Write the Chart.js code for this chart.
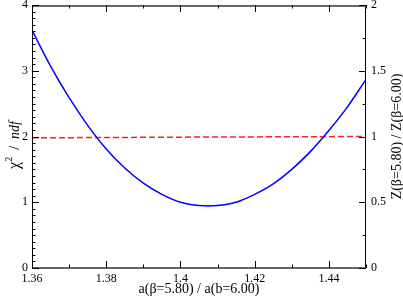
<!DOCTYPE html>
<html lang="en">
<head>
  <meta charset="UTF-8">
  <title>chi2 vs a ratio</title>
  <script src="https://cdn.jsdelivr.net/npm/chart.js"></script>
  <style>
    html, body { margin: 0; padding: 0; background: #fff; }
    #wrap { width: 403px; height: 300px; }
  </style>
</head>
<body>
  <div id="wrap"><canvas id="chart_div"></canvas></div>
  <script>
    // values
    const aRatio = [1.360, 1.365, 1.370, 1.375, 1.380, 1.385, 1.390, 1.395, 1.400, 1.405,
                    1.410, 1.415, 1.420, 1.425, 1.430, 1.435, 1.440, 1.445, 1.450];
    const chi2 = [3.62, 3.07, 2.59, 2.17, 1.81, 1.52, 1.29, 1.12, 1.00, 0.95,
                  0.95, 1.00, 1.12, 1.28, 1.50, 1.77, 2.09, 2.45, 2.87];
    const zRatioX = [1.36, 1.40, 1.45];
    const zRatio = [0.990, 0.995, 1.000];

    const xTicks = [1.36, 1.38, 1.40, 1.42, 1.44];
    const xTickLabels = ['1.36', '1.38', '1.4', '1.42', '1.44'];
    const yTicks = [0, 1, 2, 3, 4];
    const yTickLabels = ['0', '1', '2', '3', '4'];
    const y2Ticks = [0, 0.5, 1, 1.5, 2];
    const y2TickLabels = ['0', '0.5', '1', '1.5', '2'];

    const serif = "'Liberation Serif', 'DejaVu Serif', serif";

    function fixTicks(values) {
      return function (scale) {
        scale.ticks = values.map(v => ({ value: v }));
      };
    }
    function labelFrom(values, labels) {
      return function (value) {
        const i = values.findIndex(v => Math.abs(v - value) < 1e-9);
        return i >= 0 ? labels[i] : '';
      };
    }
    function sideFit(width) {
      return function (scale) {
        scale.width = width;
        scale.paddingTop = 0;
        scale.paddingBottom = 0;
      };
    }

    // frame, inward ticks and axis titles
    const frame = {
      id: 'frame',
      afterDraw(chart) {
        const { ctx, chartArea: { left, right, top, bottom }, scales: { x, y, y2 } } = chart;
        ctx.save();
        ctx.strokeStyle = '#000';
        ctx.lineWidth = 1;
        ctx.beginPath();
        ctx.moveTo(left + 0.5, top); ctx.lineTo(left + 0.5, bottom);
        ctx.moveTo(right - 0.5, top); ctx.lineTo(right - 0.5, bottom);
        ctx.stroke();
        ctx.strokeStyle = '#666';
        ctx.lineWidth = 2;
        ctx.beginPath();
        ctx.moveTo(left, top + 1); ctx.lineTo(right, top + 1);
        ctx.moveTo(left, bottom); ctx.lineTo(right, bottom);
        ctx.stroke();

        ctx.strokeStyle = '#000';
        ctx.lineWidth = 1;
        ctx.beginPath();
        // x ticks, top and bottom
        for (let i = 0; i <= 9; i++) {
          const v = 1.36 + i * 0.01;
          const px = Math.round(x.getPixelForValue(v)) + 0.5;
          const len = i % 2 === 0 ? 7 : 3.5;
          ctx.moveTo(px, bottom); ctx.lineTo(px, bottom - len);
          ctx.moveTo(px, top); ctx.lineTo(px, top + len);
        }
        // left ticks
        for (let i = 0; i <= 40; i++) {
          const py = Math.round(y.getPixelForValue(i * 0.1)) + 0.5;
          const len = i % 10 === 0 ? 7 : 3.5;
          ctx.moveTo(left, py); ctx.lineTo(left + len, py);
        }
        // right ticks
        for (let i = 0; i <= 8; i++) {
          const py = Math.round(y2.getPixelForValue(i * 0.25)) + 0.5;
          const len = i % 2 === 0 ? 7 : 3.5;
          ctx.moveTo(right, py); ctx.lineTo(right - len, py);
        }
        ctx.stroke();

        ctx.fillStyle = '#000';
        ctx.textBaseline = 'middle';
        const midY = (top + bottom) / 2;

        // left title: chi^2 / ndf
        const parts = [
          { t: 'χ', f: '16px ' + serif, dy: 0 },
          { t: '2', f: '10px ' + serif, dy: -6 },
          { t: '  /  ', f: '14px ' + serif, dy: 0 },
          { t: 'ndf', f: 'italic 14px ' + serif, dy: 0 }
        ];
        let w = 0;
        parts.forEach(p => { ctx.font = p.f; p.w = ctx.measureText(p.t).width; w += p.w; });
        ctx.save();
        ctx.translate(15, 145);
        ctx.rotate(-Math.PI / 2);
        let cx = -w / 2;
        ctx.textAlign = 'left';
        parts.forEach(p => { ctx.font = p.f; ctx.fillText(p.t, cx, p.dy); cx += p.w; });
        ctx.restore();

        // right title
        ctx.save();
        ctx.translate(397, midY);
        ctx.rotate(-Math.PI / 2);
        ctx.font = '14px ' + serif;
        ctx.textAlign = 'center';
        ctx.fillText('Z(β=5.80) / Z(β=6.00)', 0, 0);
        ctx.restore();

        // x title
        ctx.font = '14px ' + serif;
        ctx.textAlign = 'center';
        ctx.fillText('a(β=5.80) / a(b=6.00)', (left + right) / 2, 289);
        ctx.restore();
      }
    };

    const tickFont = { family: serif, size: 12 };

    new Chart(document.getElementById('chart_div'), {
      type: 'line',
      data: {
        datasets: [{
          data: aRatio.map((v, i) => ({ x: v, y: chi2[i] })),
          borderColor: '#0000ff',
          borderWidth: 1.5,
          pointRadius: 0,
          tension: 0.4,
          yAxisID: 'y'
        }, {
          data: zRatioX.map((v, i) => ({ x: v, y: zRatio[i] })),
          borderColor: '#ff2020',
          borderWidth: 1.5,
          borderDash: [6, 3],
          pointRadius: 0,
          yAxisID: 'y2'
        }]
      },
      options: {
        responsive: true,
        maintainAspectRatio: false,
        animation: false,
        events: [],
        layout: { padding: { top: 5, left: 0, right: 0, bottom: 0 } },
        plugins: { legend: { display: false }, tooltip: { enabled: false } },
        scales: {
          x: {
            type: 'linear',
            min: 1.36,
            max: 1.45,
            afterBuildTicks: fixTicks(xTicks),
            afterFit(scale) { scale.height = 32; scale.paddingLeft = 0; scale.paddingRight = 0; },
            grid: { display: false, drawTicks: false },
            border: { display: false },
            ticks: { font: tickFont, color: '#000', padding: 4, maxRotation: 0,
                     callback: labelFrom(xTicks, xTickLabels) }
          },
          y: {
            position: 'left',
            min: 0,
            max: 4,
            afterBuildTicks: fixTicks(yTicks),
            afterFit: sideFit(32),
            grid: { display: false, drawTicks: false },
            border: { display: false },
            ticks: { font: tickFont, color: '#000', padding: 4,
                     callback: labelFrom(yTicks, yTickLabels) }
          },
          y2: {
            position: 'right',
            min: 0,
            max: 2,
            afterBuildTicks: fixTicks(y2Ticks),
            afterFit: sideFit(37),
            grid: { display: false, drawTicks: false },
            border: { display: false },
            ticks: { font: tickFont, color: '#000', padding: 5,
                     callback: labelFrom(y2Ticks, y2TickLabels) }
          }
        }
      },
      plugins: [frame]
    });
  </script>
</body>
</html>
